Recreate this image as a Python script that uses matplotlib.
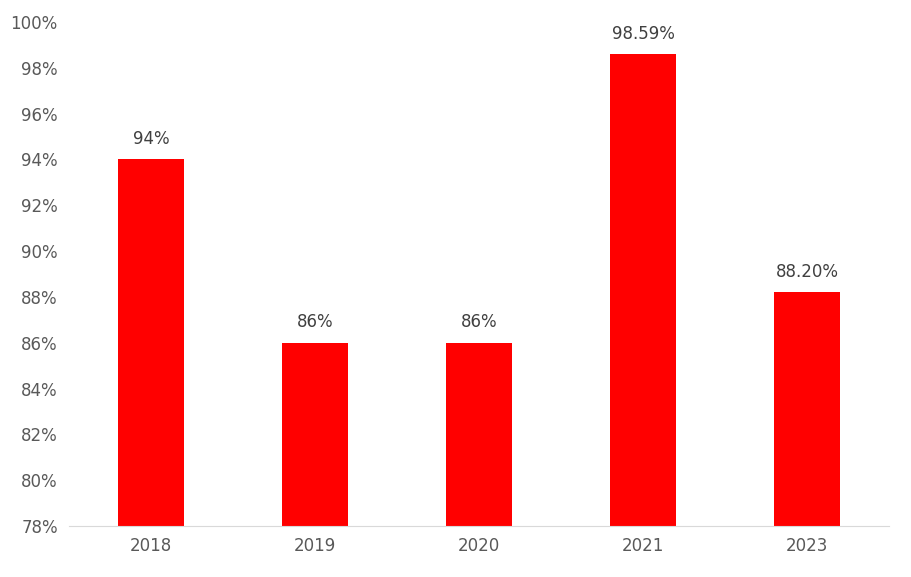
import matplotlib.pyplot as plt

years = ['2018', '2019', '2020', '2021', '2023']
values = [94, 86, 86, 98.59, 88.20]
labels = ['94%', '86%', '86%', '98.59%', '88.20%']

fig = plt.figure(figsize=(9.11, 5.77), dpi=100)
ax = fig.add_axes([0.0757, 0.0884, 0.9003, 0.8735])

x = range(len(years))
bars = ax.bar(x, values, width=0.4, color='#ff0000', bottom=0)
for bar, lab in zip(bars, labels):
    ax.text(bar.get_x() + bar.get_width() / 2, bar.get_height() + 0.5, lab,
            ha='center', va='bottom', fontsize=12, color='#404040')

ax.set_ylim(78, 100)
ax.set_xlim(-0.5, 4.5)
ax.set_yticks(range(78, 101, 2))
ax.set_yticklabels([f'{v}%' for v in range(78, 101, 2)])
ax.set_xticks(list(x))
ax.set_xticklabels(years)
ax.tick_params(axis='both', length=0, labelsize=12, labelcolor='#595959', pad=8)
for s in ['top', 'right', 'left']:
    ax.spines[s].set_visible(False)
ax.spines['bottom'].set_color('#d9d9d9')

fig.savefig('out.png', dpi=100)
